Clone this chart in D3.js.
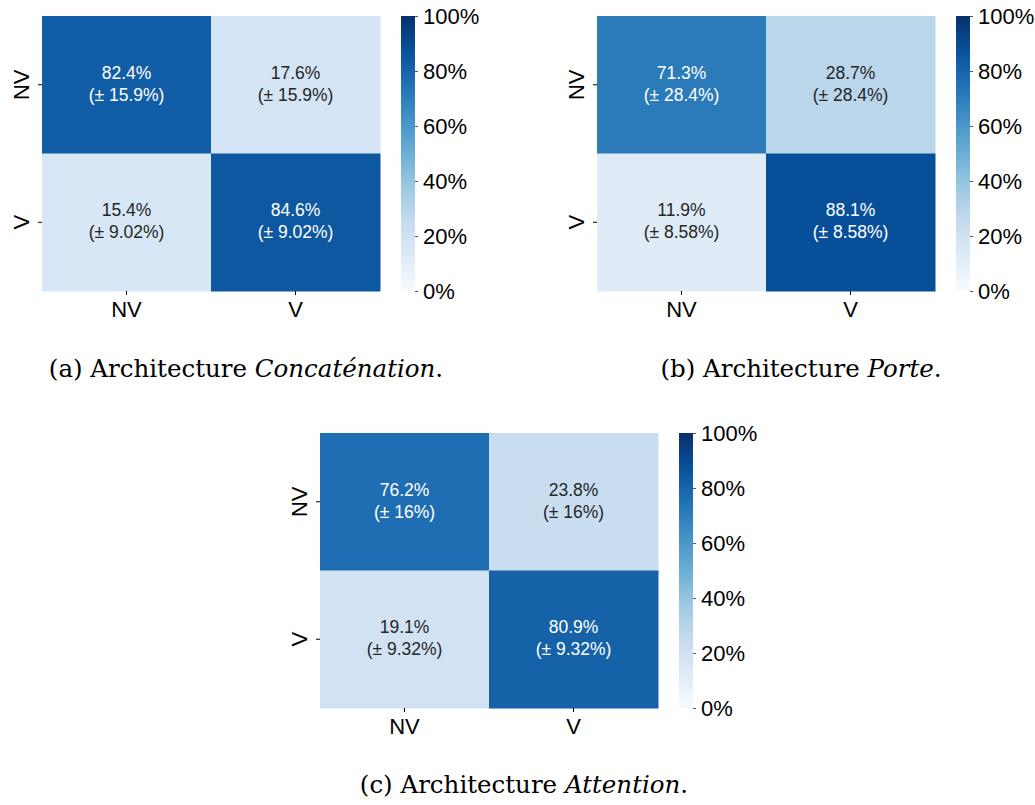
<!DOCTYPE html>
<html><head><meta charset="utf-8">
<script src="https://cdn.jsdelivr.net/npm/d3@7"></script>
<style>body{margin:0;background:#fff}svg{display:block}</style>
</head><body>
<svg id="chart" width="1035" height="805"></svg>
<script>
const categories = ["NV", "V"];
const valuesA = [[82.4, 17.6], [15.4, 84.6]];
const errorsA = [["15.9", "15.9"], ["9.02", "9.02"]];
const valuesB = [[71.3, 28.7], [11.9, 88.1]];
const errorsB = [["28.4", "28.4"], ["8.58", "8.58"]];
const valuesC = [[76.2, 23.8], [19.1, 80.9]];
const errorsC = [["16", "16"], ["9.32", "9.32"]];
const colorbarTicks = [0, 20, 40, 60, 80, 100];
const captionPrefixes = ["(a) Architecture ", "(b) Architecture ", "(c) Architecture "];
const captionNames = ["Concaténation", "Porte", "Attention"];

const bluesStops = ["#f7fbff","#deebf7","#c6dbef","#9ecae1","#6baed6","#4292c6","#2171b5","#08519c","#08306b"];
const color = d3.scaleLinear().domain(d3.range(9).map(i => i * 100 / 8)).range(bluesStops).interpolate(d3.interpolateRgb);

function lum(c) {
  const rgb = d3.rgb(c);
  const f = v => { v /= 255; return v <= 0.03928 ? v / 12.92 : Math.pow((v + 0.055) / 1.055, 2.4); };
  return 0.2126 * f(rgb.r) + 0.7152 * f(rgb.g) + 0.0722 * f(rgb.b);
}

const svg = d3.select("#chart");
const SANS = "'Liberation Sans', Arial, sans-serif";

function panel(x0, y0, values, errors, capCx, capY, idx) {
  const g = svg.append("g");
  const W = 338, H = 275;
  const xs = d3.scaleBand().domain(categories).range([x0, x0 + W]);
  const ys = d3.scaleBand().domain(categories).range([y0, y0 + H]);
  const cells = [];
  categories.forEach((r, i) => categories.forEach((c, j) => cells.push({r, c, v: values[i][j], e: errors[i][j]})));
  g.selectAll("rect.cell").data(cells).enter().append("rect")
    .attr("x", d => xs(d.c)).attr("y", d => ys(d.r))
    .attr("width", xs.bandwidth() + 0.5).attr("height", ys.bandwidth() + 0.5)
    .attr("fill", d => color(d.v));
  const t = g.selectAll("text.cell").data(cells).enter().append("text")
    .attr("text-anchor", "middle")
    .style("font-family", SANS).style("font-size", "17.5px")
    .attr("fill", d => lum(color(d.v)) < 0.408 ? "#ffffff" : "#262626");
  t.append("tspan").attr("x", d => xs(d.c) + xs.bandwidth() / 2)
    .attr("y", d => ys(d.r) + ys.bandwidth() / 2 - 6).text(d => d.v.toFixed(1) + "%");
  t.append("tspan").attr("x", d => xs(d.c) + xs.bandwidth() / 2)
    .attr("y", d => ys(d.r) + ys.bandwidth() / 2 + 16).text(d => "(± " + d.e + "%)");

  // axes
  const xAxis = d3.axisBottom(xs).tickSize(4).tickPadding(6);
  const gx = g.append("g").attr("transform", `translate(0,${y0 + H})`).call(xAxis);
  gx.select(".domain").remove();
  gx.selectAll("text").style("font-family", SANS).style("font-size", "22px").attr("fill", "#000");
  const yAxis = d3.axisLeft(ys).tickSize(4).tickPadding(4);
  const gy = g.append("g").attr("transform", `translate(${x0},0)`).call(yAxis);
  gy.select(".domain").remove();
  gy.selectAll("text").style("font-family", SANS).style("font-size", "22px").attr("fill", "#000")
    .attr("text-anchor", "middle").attr("dy", null)
    .attr("transform", "rotate(-90,-21,0)")
    .attr("x", -21).attr("y", 8);

  // colorbar
  const cbx = x0 + 359, cbw = 14;
  const cs = d3.scaleLinear().domain([0, 100]).range([y0 + H, y0]);
  const gradId = "grad" + idx;
  const grad = svg.append("defs").append("linearGradient").attr("id", gradId)
    .attr("x1", 0).attr("y1", 1).attr("x2", 0).attr("y2", 0);
  d3.range(0, 101, 5).forEach(v => grad.append("stop").attr("offset", v / 100).attr("stop-color", color(v)));
  g.append("rect").attr("x", cbx).attr("y", y0).attr("width", cbw).attr("height", H).attr("fill", `url(#${gradId})`);
  const cAxis = d3.axisRight(cs).tickValues(colorbarTicks).tickFormat(d => d + "%").tickSize(3).tickPadding(5);
  const gc = g.append("g").attr("transform", `translate(${cbx + cbw},0)`).call(cAxis);
  gc.select(".domain").remove();
  gc.selectAll("line").attr("stroke", "#555");
  gc.selectAll("text").style("font-family", SANS).style("font-size", "22px").attr("fill", "#000");

  // caption
  const ct = g.append("text").attr("x", capCx).attr("y", capY).attr("text-anchor", "middle")
    .style("font-family", "'DejaVu Serif', serif").style("font-size", "24.5px").attr("fill", "#000");
  ct.append("tspan").text(captionPrefixes[idx]);
  ct.append("tspan").style("font-style", "italic").text(captionNames[idx]);
  ct.append("tspan").text(".");
}

panel(42, 16, valuesA, errorsA, 246, 377, 0);
panel(597, 16, valuesB, errorsB, 801, 377, 1);
panel(320, 433, valuesC, errorsC, 524, 793, 2);
</script>
</body></html>
